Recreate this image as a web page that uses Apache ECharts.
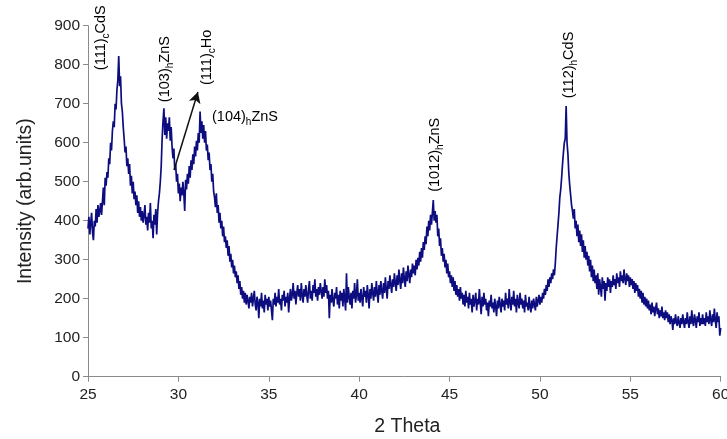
<!DOCTYPE html>
<html>
<head>
<meta charset="utf-8">
<script src="https://cdn.jsdelivr.net/npm/echarts@6/dist/echarts.min.js"></script>
<style>
html,body{margin:0;padding:0;background:#fff;}
#chart{width:727px;height:439px;}
</style>
</head>
<body>
<div id="chart"></div>
<script>
// 2-theta scan: start 25°, step 0.05°
const scanStart = 25;
const scanStep = 0.05;
// intensity read per 1° block (20 samples each)
const i25 = [380,410,365,395,420,370,350,400,385,430,395,440,410,425,445,415,450,485,440,510];
const i26 = [490,525,510,560,545,600,580,630,655,640,700,685,735,760,822,745,770,700,680,640];
const i27 = [610,575,590,540,560,520,545,490,515,470,500,455,475,440,465,420,450,410,435,400];
const i28 = [425,395,415,440,390,410,375,420,395,445,380,400,355,415,390,430,365,420,450,470];
const i29 = [500,540,610,655,688,620,665,610,650,630,665,605,640,590,560,585,530,545,500,520];
const i30 = [470,495,450,485,465,500,470,425,505,480,520,495,540,510,555,530,570,545,590,565];
const i31 = [605,580,625,600,680,625,655,610,645,600,630,580,595,555,575,530,545,500,520,475];
const i32 = [460,435,470,420,440,395,420,380,400,360,385,345,360,330,350,310,335,295,315,280];
const i33 = [300,265,285,255,270,240,260,225,245,210,230,200,220,190,215,185,210,195,175,205];
const i34 = [190,215,180,200,220,185,170,205,190,150,200,180,215,175,195,165,210,185,200,170];
const i35 = [205,180,195,170,145,200,185,215,180,205,190,225,185,200,170,210,195,220,180,205];
const i36 = [190,215,165,200,225,195,210,240,200,220,185,215,235,205,225,195,240,210,190,225];
const i37 = [205,235,210,190,225,245,200,220,195,235,215,250,205,225,195,230,210,240,220,200];
const i38 = [230,205,250,215,235,200,220,150,210,190,225,195,180,215,200,230,185,210,175,220];
const i39 = [195,215,180,225,200,170,265,190,230,205,185,215,175,220,200,240,190,210,250,195];
const i40 = [215,190,225,200,180,230,205,220,190,235,210,175,225,200,240,215,195,230,205,245];
const i41 = [215,190,235,210,245,220,200,240,215,255,225,200,245,225,260,235,215,250,230,265];
const i42 = [240,220,260,235,275,245,225,265,240,280,250,230,270,245,285,260,240,275,255,290];
const i43 = [265,285,260,300,275,305,285,320,295,330,305,345,325,360,340,385,360,400,375,415];
const i44 = [390,420,453,400,425,395,415,360,380,335,355,310,330,295,315,280,300,265,290,255];
const i45 = [270,240,260,230,255,220,245,210,235,205,225,195,230,200,215,185,210,180,220,190];
const i46 = [205,175,215,185,200,165,210,180,195,215,170,200,185,225,190,160,205,180,215,185];
const i47 = [200,170,190,155,195,180,210,175,190,165,200,180,155,195,175,205,185,165,200,180];
const i48 = [195,170,215,185,200,175,225,190,170,205,185,220,180,200,165,210,190,175,215,185];
const i49 = [200,175,195,165,210,180,190,170,205,180,165,195,175,200,185,170,205,180,195,210];
const i50 = [185,205,190,215,200,225,210,235,220,250,230,255,240,265,250,275,260,290,330,360];
const i51 = [390,420,460,480,510,545,575,600,610,694,600,570,520,490,465,440,425,405,430,380];
const i52 = [400,360,390,345,375,335,365,320,350,305,335,300,320,285,310,270,300,255,285,245];
const i53 = [275,240,260,225,265,210,250,230,205,255,225,245,195,240,220,255,230,250,215,245];
const i54 = [230,260,235,250,225,265,240,255,230,270,245,260,240,275,250,235,265,245,260,230];
const i55 = [255,235,250,225,245,215,240,220,235,205,225,200,220,190,215,185,205,180,200,175];
const i56 = [195,170,185,160,190,165,180,155,175,190,160,175,150,170,155,180,150,165,145,170];
const i57 = [150,165,140,160,135,155,145,120,150,135,160,140,130,155,140,125,150,135,160,140];
const i58 = [125,150,135,165,140,125,155,135,170,140,130,160,145,125,155,140,165,130,150,135];
const i59 = [160,135,150,130,165,140,155,135,170,145,130,160,140,175,145,125,165,140,155,105];
const i60 = [125];

const intensityBlocks = [i25,i26,i27,i28,i29,i30,i31,i32,i33,i34,i35,i36,i37,i38,i39,i40,i41,i42,i43,i44,i45,i46,i47,i48,i49,i50,i51,i52,i53,i54,i55,i56,i57,i58,i59,i60];

// annotation labels: [text parts, anchor 2θ, anchor intensity, rotated]
const peakLabels = [
  {main1:'(111)', sub:'c', main2:'CdS', x:25.72, y:786, rot:true},
  {main1:'(103)', sub:'h', main2:'ZnS', x:29.26, y:704, rot:true},
  {main1:'(111)', sub:'c', main2:'Ho', x:31.58, y:748, rot:true},
  {main1:'(104)', sub:'h', main2:'ZnS', x:31.86, y:666, rot:false},
  {main1:'(1012)', sub:'h', main2:'ZnS', x:44.19, y:474, rot:true},
  {main1:'(112)', sub:'h', main2:'CdS', x:51.62, y:714, rot:true}
];
const arrowFrom = [29.76, 530];
const arrowTo = [31.08, 730];

const xTicks = {min:25, max:60, interval:5};
const yTicks = {min:0, max:900, interval:100};

const seriesData = [];
let k = 0;
intensityBlocks.forEach(b => b.forEach(v => {
  seriesData.push([+(scanStart + k * scanStep).toFixed(2), v]);
  k++;
}));

const chart = echarts.init(document.getElementById('chart'), null, {renderer:'canvas'});
const FONT = '"Liberation Sans", Arial, sans-serif';
const axisCol = '#8a8a8a';
chart.setOption({
  animation:false,
  backgroundColor:'#ffffff',
  grid:{left:88, right:6.3, top:25.7, bottom:62.3, containLabel:false, outerBoundsMode:'none'},
  xAxis:{
    type:'value', min:xTicks.min, max:xTicks.max, interval:xTicks.interval,
    name:'2 Theta', nameLocation:'middle', nameGap:40,
    nameTextStyle:{fontFamily:FONT, fontSize:19.5, color:'#222', padding:[0,0,0,6]},
    axisLine:{show:true, onZero:false, lineStyle:{color:axisCol, width:1}},
    axisTick:{show:true, inside:false, length:5, lineStyle:{color:axisCol}},
    axisLabel:{fontFamily:FONT, fontSize:15.5, color:'#222', margin:10},
    splitLine:{show:false}
  },
  yAxis:{
    type:'value', min:yTicks.min, max:yTicks.max, interval:yTicks.interval,
    name:'Intensity (arb.units)', nameLocation:'middle', nameGap:52,
    nameTextStyle:{fontFamily:FONT, fontSize:19.5, color:'#222'},
    axisLine:{show:true, onZero:false, lineStyle:{color:axisCol, width:1}},
    axisTick:{show:true, inside:false, length:5, lineStyle:{color:axisCol}},
    axisLabel:{fontFamily:FONT, fontSize:15.5, color:'#222', margin:8},
    splitLine:{show:false}
  },
  series:[{
    type:'line', data:seriesData, showSymbol:false, symbol:'none',
    lineStyle:{color:'#0d0d80', width:1.7},
    markLine:{
      silent:true, symbol:['none','arrow'], symbolSize:[9,11],
      label:{show:false},
      lineStyle:{color:'#111', width:1.5, type:'solid'},
      data:[[{coord:arrowFrom},{coord:arrowTo}]]
    }
  }]
});

const graphics = peakLabels.map(L => {
  const p = chart.convertToPixel({gridIndex:0}, [L.x, L.y]);
  return {
    type:'text', x:p[0], y:p[1], rotation: L.rot ? Math.PI/2 : 0,
    silent:true,
    style:{
      text:'{n|' + L.main1 + '}{s|' + L.sub + '}{n|' + L.main2 + '}',
      align:'left', verticalAlign:'middle',
      rich:{
        n:{fontFamily:FONT, fontSize:14.5, color:'#111', lineHeight:20},
        s:{fontFamily:FONT, fontSize:10, color:'#111', lineHeight:10, verticalAlign:'bottom'}
      }
    }
  };
});
chart.setOption({graphic:graphics});
</script>
</body>
</html>
